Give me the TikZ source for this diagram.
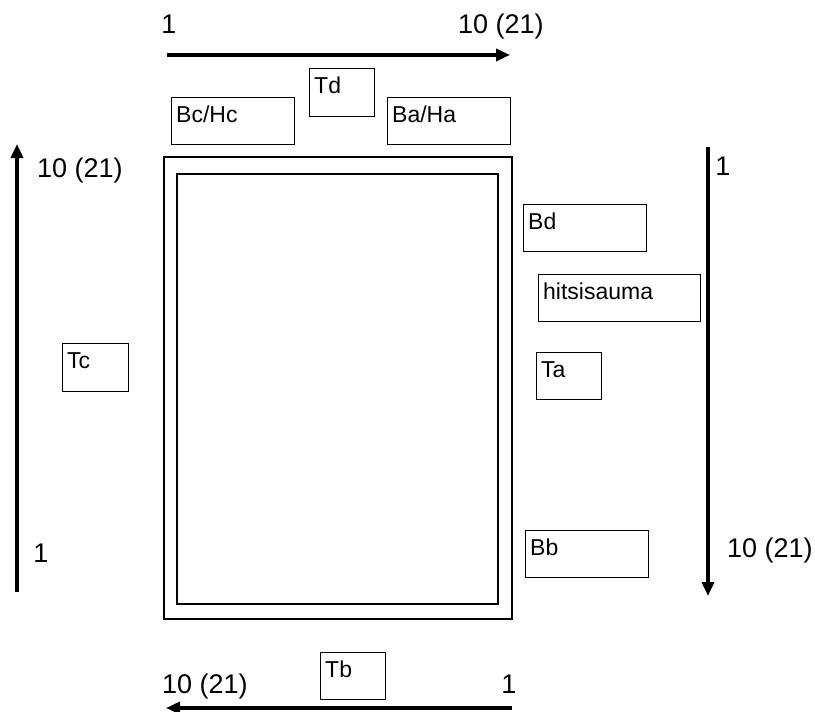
\documentclass[tikz,border=0pt]{standalone}
\usepackage{fontspec}
\setmainfont{Liberation Sans}
\usetikzlibrary{arrows.meta}
\tikzset{
  tag/.style={draw, line width=1.3pt, anchor=north west, inner sep=0pt},
  tagtext/.style={anchor=north west, inner xsep=5pt, inner ysep=9pt, font=\fontsize{23}{25}\selectfont},
  num/.style={anchor=base, inner sep=0pt, font=\fontsize{27}{30}\selectfont},
  dir/.style={line width=3.6pt, -{Triangle[length=14pt,width=12pt]}}
}
\begin{document}
\begin{tikzpicture}[x=1pt,y=-1pt]
\useasboundingbox (0,0) rectangle (815,712);
% frame
\draw[line width=1.3pt] (164,157) rectangle (512,619);
\draw[line width=1.3pt] (177,174) rectangle (498,604);
% tags
\node[tag, minimum width=65pt, minimum height=48pt, label={[tagtext]north west:Td}] (td) at (309,68) {};
\node[tag, minimum width=123pt, minimum height=47pt, label={[tagtext]north west:Bc/Hc}] (bchc) at (171,97) {};
\node[tag, minimum width=123pt, minimum height=47pt, label={[tagtext]north west:Ba/Ha}] (baha) at (387,97) {};
\node[tag, minimum width=66pt, minimum height=48pt, label={[tagtext]north west:Tc}] (tc) at (62,343) {};
\node[tag, minimum width=123pt, minimum height=47pt, label={[tagtext]north west:Bd}] (bd) at (523,204) {};
\node[tag, minimum width=162pt, minimum height=47pt, label={[tagtext]north west:hitsisauma}] (hits) at (538,274) {};
\node[tag, minimum width=65pt, minimum height=47pt, label={[tagtext]north west:Ta}] (ta) at (536,352) {};
\node[tag, minimum width=123pt, minimum height=47pt, label={[tagtext]north west:Bb}] (bb) at (525,530) {};
\node[tag, minimum width=65pt, minimum height=47pt, label={[tagtext]north west:Tb}] (tb) at (320,652) {};
% direction arrows
\coordinate (topA) at (167,55);
\coordinate (topB) at (510,55);
\coordinate (leftA) at (17,592);
\coordinate (leftB) at (17,144);
\coordinate (rightA) at (708,147);
\coordinate (rightB) at (708,596);
\coordinate (botA) at (512,708);
\coordinate (botB) at (166,708);
\draw[dir] (topA) -- (topB);
\draw[dir] (leftA) -- (leftB);
\draw[dir] (rightA) -- (rightB);
\draw[dir] (botA) -- (botB);
% numbering
\node[num] (top1) at (169,34) {1};
\node[num] (top10) at (501,34) {10 (21)};
\node[num] (left10) at (80,177) {10 (21)};
\node[num] (left1) at (41,562) {1};
\node[num] (right1) at (723,175) {1};
\node[num] (right10) at (770,557) {10 (21)};
\node[num] (bot10) at (205,693) {10 (21)};
\node[num] (bot1) at (509,693) {1};
\end{tikzpicture}
\end{document}
